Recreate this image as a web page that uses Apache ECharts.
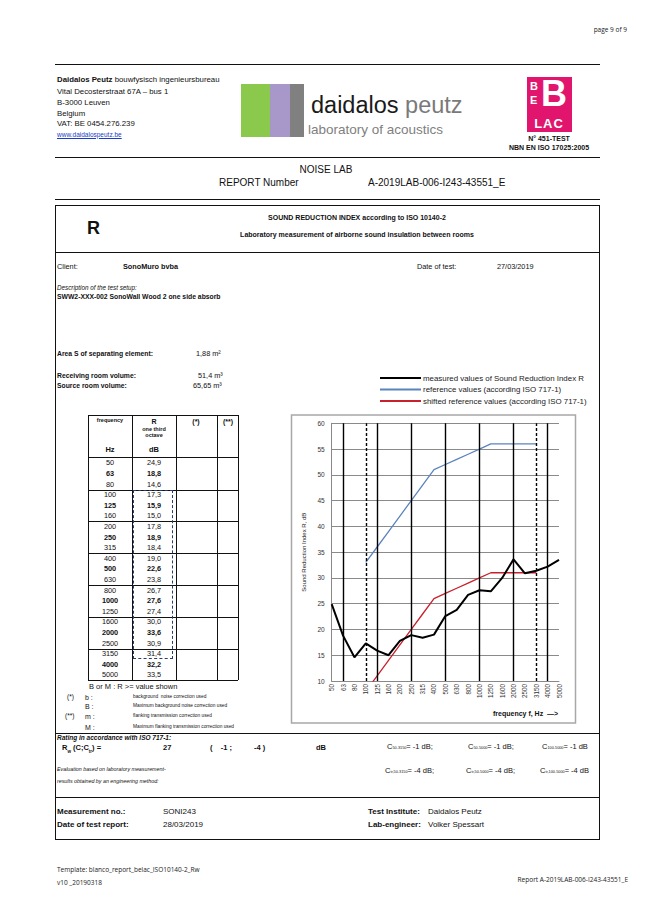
<!DOCTYPE html>
<html>
<head>
<meta charset="utf-8">
<script src="https://cdn.jsdelivr.net/npm/echarts@6/dist/echarts.min.js"></script>
<style>
  html, body { margin:0; padding:0; background:#fff; }
  body { width:647px; height:910px; position:relative; overflow:hidden; font-family:"Liberation Sans", Arial, sans-serif; color:#111; }
  .t { position:absolute; white-space:nowrap; }
  .hl { position:absolute; height:0; border-top:1.3px solid #111; }
  .vl { position:absolute; width:0; border-left:1px solid #111; }
  #chart { position:absolute; left:280px; top:360px; width:320px; height:370px; }
</style>
</head>
<body>
<div id="page"></div>
<div id="chart"></div>
<script>
// ---------- data ----------
const frequencies = ['50','63','80','100','125','160','200','250','315','400','500','630','800','1000','1250','1600','2000','2500','3150','4000','5000'];
const measuredR = [24.9,18.8,14.6,17.3,15.9,15.0,17.8,18.9,18.4,19.0,22.6,23.8,26.7,27.6,27.4,30.0,33.6,30.9,31.4,32.2,33.5];
const referenceR = [null,null,null,33,36,39,42,45,48,51,52,53,54,55,56,56,56,56,56,null,null];
const shiftedR = [null,null,null,8,11,14,17,20,23,26,27,28,29,30,31,31,31,31,31,null,null];
const tableR = ['24,9','18,8','14,6','17,3','15,9','15,0','17,8','18,9','18,4','19,0','22,6','23,8','26,7','27,6','27,4','30,0','33,6','30,9','31,4','32,2','33,5'];
const octaveLines = ['63','125','250','500','1000','2000','4000'];
const rangeLimits = ['100','3150'];
const seriesNames = ['measured values of Sound Reduction Index R','reference values (according ISO 717-1)','shifted reference values (according ISO 717-1)'];

// ---------- page text ----------
const page = document.getElementById('page');
function T(x, y, size, html, style, align) {
  const d = document.createElement('div');
  d.className = 't';
  d.innerHTML = html;
  d.style.fontSize = size + 'px';
  d.style.lineHeight = size + 'px';
  d.style.top = (y - size / 2) + 'px';
  if (align === 'center') { d.style.left = x + 'px'; d.style.transform = 'translateX(-50%)'; }
  else if (align === 'right') { d.style.right = (647 - x) + 'px'; }
  else d.style.left = x + 'px';
  if (style) d.style.cssText += style;
  page.appendChild(d);
  return d;
}
function H(x1, x2, y, w, style) {
  const d = document.createElement('div');
  d.className = 'hl'; d.style.left = x1 + 'px'; d.style.width = (x2 - x1) + 'px'; d.style.top = y + 'px';
  if (w) d.style.borderTopWidth = w + 'px';
  if (style) d.style.cssText += style;
  page.appendChild(d);
}
function V(x, y1, y2, style) {
  const d = document.createElement('div');
  d.className = 'vl'; d.style.left = x + 'px'; d.style.top = y1 + 'px'; d.style.height = (y2 - y1) + 'px';
  if (style) d.style.cssText += style;
  page.appendChild(d);
}
function R(x, y, w, h, style) {
  const d = document.createElement('div');
  d.style.cssText = 'position:absolute;left:' + x + 'px;top:' + y + 'px;width:' + w + 'px;height:' + h + 'px;' + (style || '');
  page.appendChild(d);
}

const OS = 'font-family:"Open Sans",sans-serif;color:#222;';
T(627, 30, 6.5, 'page 9 of 9', OS, 'right');

H(55, 600, 64);
T(57, 80, 7.8, '<b>Daidalos Peutz</b> bouwfysisch ingenieursbureau');
T(57, 92, 7.8, 'Vital Decosterstraat 67A – bus 1');
T(57, 103, 7.8, 'B-3000 Leuven');
T(57, 114, 7.8, 'Belgium');
T(57, 124, 7.8, 'VAT: BE 0454.276.239');
T(57, 135, 6.5, 'www.daidalospeutz.be', 'color:#1a3cc8;text-decoration:underline;');

// logo
R(241, 84, 29, 53, 'background:#8bc94d;');
R(270, 84, 20, 53, 'background:#a898c9;');
R(290, 84, 14, 53, 'background:#808080;');
T(311, 106, 23.5, '<span style="color:#1a1a1a">daidalos</span> <span style="color:#7a7a7a">peutz</span>');
T(308, 130, 13.5, 'laboratory of acoustics', 'color:#808080;');

// BELAC
R(527, 77, 45, 55, 'background:#e1156d;');
T(530, 86, 11, 'B', 'color:#fff;font-weight:bold;');
T(530, 100, 11, 'E', 'color:#fff;font-weight:bold;');
T(541, 94, 36, 'B', 'color:#fff;font-weight:bold;');
T(549, 123, 13, 'LAC', 'color:#fff;font-weight:bold;letter-spacing:1px;', 'center');
T(549, 138, 7, 'N° 451-TEST', 'font-weight:bold;', 'center');
T(549, 147, 7, 'NBN EN ISO 17025:2005', 'font-weight:bold;', 'center');

H(55, 600, 157);
T(326, 170, 10, 'NOISE LAB', '', 'center');
T(219, 183, 10, 'REPORT Number');
T(368, 183, 10, 'A-2019LAB-006-I243-43551_E');
H(55, 600, 199);

// main box
R(55, 205, 545, 635, 'border:1.3px solid #111;box-sizing:border-box;');
H(55, 600, 252);
T(87, 228, 18, 'R', 'font-weight:bold;');
T(357, 217, 7, 'SOUND REDUCTION INDEX according to ISO 10140-2', 'font-weight:bold;', 'center');
T(357, 234, 7, 'Laboratory measurement of airborne sound insulation between rooms', 'font-weight:bold;', 'center');

T(57, 267, 7.3, 'Client:');
T(123, 267, 7.3, 'SonoMuro bvba', 'font-weight:bold;');
T(417, 267, 7.3, 'Date of test:');
T(497, 267, 7.3, '27/03/2019');
T(57, 288, 6.3, 'Description of the test setup:', 'font-style:italic;');
T(57, 297, 6.8, 'SWW2-XXX-002 SonoWall Wood 2 one side absorb', 'font-weight:bold;');
T(57, 354, 6.8, 'Area S of separating element:', 'font-weight:bold;');
T(196, 354, 7.3, '1,88 m²');
T(57, 376, 6.8, 'Receiving room volume:', 'font-weight:bold;');
T(198, 376, 7.3, '51,4 m³');
T(57, 386, 6.8, 'Source room volume:', 'font-weight:bold;');
T(193, 386, 7.3, '65,65 m³');

// table
const tx = [88, 132, 176, 217, 238];
const tTop = 415, hdrBot = 457, row0 = 463, rowH = 10.6;
const tBot = row0 + 20.5 * rowH;
tx.forEach(x => V(x, tTop, tBot));
H(88, 238, tTop, 1);
H(88, 238, hdrBot, 1);
H(88, 238, tBot, 1);
T(110, 421, 5.5, 'frequency', 'font-weight:bold;', 'center');
T(154, 421, 7, 'R', 'font-weight:bold;', 'center');
T(154, 430, 5.5, 'one third', 'font-weight:bold;', 'center');
T(154, 436, 5.5, 'octave', 'font-weight:bold;', 'center');
T(196, 421, 7, '(*)', 'font-weight:bold;', 'center');
T(228, 421, 7, '(**)', 'font-weight:bold;', 'center');
T(110, 450, 7.5, 'Hz', 'font-weight:bold;', 'center');
T(154, 450, 7.5, 'dB', 'font-weight:bold;', 'center');
frequencies.forEach((f, i) => {
  const y = row0 + i * rowH;
  const st = octaveLines.indexOf(f) >= 0 ? 'font-weight:bold;' : '';
  T(110, y, 7.3, f, st, 'center');
  T(154, y, 7.3, tableR[i], st, 'center');
  if (i % 3 === 2 && i < 18) H(88, 238, row0 + (i + 0.5) * rowH, 1);
});
R(133, row0 + 2.5 * rowH, 40, 16 * rowH, 'border:1px dashed #2a3d6a;box-sizing:border-box;');

T(89, 687, 7.5, 'B or M : R >= value shown');
T(67, 697, 6.5, '(*)');
T(85, 697, 7, 'b :');
T(133, 697, 4.8, 'background&nbsp; noise correction used');
T(85, 706, 7, 'B :');
T(133, 706, 4.8, 'Maximum background noise correction used');
T(65, 716, 6.5, '(**)');
T(85, 716, 7, 'm :');
T(133, 716, 4.8, 'flanking transmission correction used');
T(85, 727, 7, 'M :');
T(133, 727, 4.8, 'Maximum flanking transmission correction used');

// rating
H(55, 600, 733);
T(57, 738, 6.5, 'Rating in accordance with ISO 717-1:', 'font-weight:bold;font-style:italic;');
T(62, 748, 7.5, 'R<sub style="font-size:4.5px">w</sub> (C;C<sub style="font-size:4.5px">tr</sub>) =', 'font-weight:bold;');
T(163, 748, 7.5, '27', 'font-weight:bold;');
T(210, 748, 7.5, '(&nbsp;&nbsp;&nbsp; -1 ;', 'font-weight:bold;');
T(254, 748, 7.5, '-4 )', 'font-weight:bold;');
T(316, 748, 7.5, 'dB', 'font-weight:bold;');
T(387, 747, 7.5, 'C<span style="font-size:3.8px">50-3150</span>= -1 dB;');
T(468, 747, 7.5, 'C<span style="font-size:3.8px">50-5000</span>= -1 dB;');
T(542, 747, 7.5, 'C<span style="font-size:3.8px">100-5000</span>= -1 dB');
T(385, 771, 7.5, 'C<span style="font-size:3.8px">tr,50-3150</span>= -4 dB;');
T(466, 771, 7.5, 'C<span style="font-size:3.8px">tr,50-5000</span>= -4 dB;');
T(540, 771, 7.5, 'C<span style="font-size:3.8px">tr,100-5000</span>= -4 dB');
T(57, 770, 5.3, 'Evaluation based on laboratory measurement-', 'font-style:italic;');
T(57, 782, 5.3, 'results obtained by an engineering method:', 'font-style:italic;');

H(55, 600, 797);
T(57, 812, 8, 'Measurement no.:', 'font-weight:bold;');
T(163, 812, 8, 'SONI243');
T(368, 812, 8, 'Test Institute:', 'font-weight:bold;');
T(428, 812, 8, 'Daidalos Peutz');
T(57, 825, 8, 'Date of test report:', 'font-weight:bold;');
T(163, 825, 8, '28/03/2019');
T(368, 825, 8, 'Lab-engineer:', 'font-weight:bold;');
T(428, 825, 8, 'Volker Spessart');

T(57, 870, 6.5, 'Template: blanco_report_belac_ISO10140-2_Rw', OS);
T(57, 883, 6.5, 'v10 _20190318', OS);
T(628, 880, 6.5, 'Report A-2019LAB-006-I243-43551_E', OS, 'right');

// ---------- chart ----------
const chart = echarts.init(document.getElementById('chart'), null, { renderer: 'svg' });
const vLines = octaveLines.map(f => ({ xAxis: f, lineStyle: { type: 'solid' } }))
  .concat(rangeLimits.map(f => ({ xAxis: f, lineStyle: { type: [3, 2] } })));
chart.setOption({
  animation: false,
  textStyle: { fontFamily: '"Liberation Sans", Arial, sans-serif' },
  legend: {
    orient: 'vertical', left: 95, top: 9, itemWidth: 41, itemHeight: 2, itemGap: 3.5,
    icon: 'rect', textStyle: { fontSize: 7.9, color: '#222', padding: [0, 0, 0, -3] },
    data: seriesNames
  },
  grid: { left: 51.7, right: 41, top: 63.3, bottom: 49 },
  xAxis: {
    type: 'category', data: frequencies, boundaryGap: false,
    axisLine: { lineStyle: { color: '#888' } }, axisTick: { show: false },
    axisLabel: { rotate: 90, fontSize: 6.3, color: '#333', margin: 3, interval: 0 }
  },
  yAxis: {
    type: 'value', min: 10, max: 60, interval: 5,
    name: 'Sound Reduction Index R, dB', nameLocation: 'middle', nameGap: 17,
    nameTextStyle: { fontSize: 6, color: '#222' },
    axisLine: { show: true, lineStyle: { color: '#888' } }, axisTick: { show: false },
    axisLabel: { fontSize: 6.5, color: '#333', margin: 7 },
    splitLine: { lineStyle: { color: '#8a8a8a', width: 1 } }
  },
  graphic: [
    { type: 'rect', shape: { x: 11.5, y: 55, width: 284, height: 308 }, style: { fill: 'none', stroke: '#a8a8a8', lineWidth: 1.5 } },
    { type: 'text', left: 213, top: 350, style: { text: 'frequency f, Hz  —>', fontSize: 7, fontWeight: 'bold', fill: '#111' } }
  ],
  series: [
    {
      name: seriesNames[0], type: 'line', data: measuredR, symbol: 'none', z: 5,
      itemStyle: { color: '#000' }, lineStyle: { color: '#000', width: 2 },
      markLine: { silent: true, symbol: 'none', label: { show: false }, lineStyle: { color: '#000', width: 1.4 }, data: vLines }
    },
    {
      name: seriesNames[1], type: 'line', data: referenceR, symbol: 'none', z: 4,
      itemStyle: { color: '#5b84bd' }, lineStyle: { color: '#5b84bd', width: 1.3 }
    },
    {
      name: seriesNames[2], type: 'line', data: shiftedR, symbol: 'none', z: 4,
      itemStyle: { color: '#c8202c' }, lineStyle: { color: '#c8202c', width: 1.3 }
    }
  ]
});
</script>
</body>
</html>
